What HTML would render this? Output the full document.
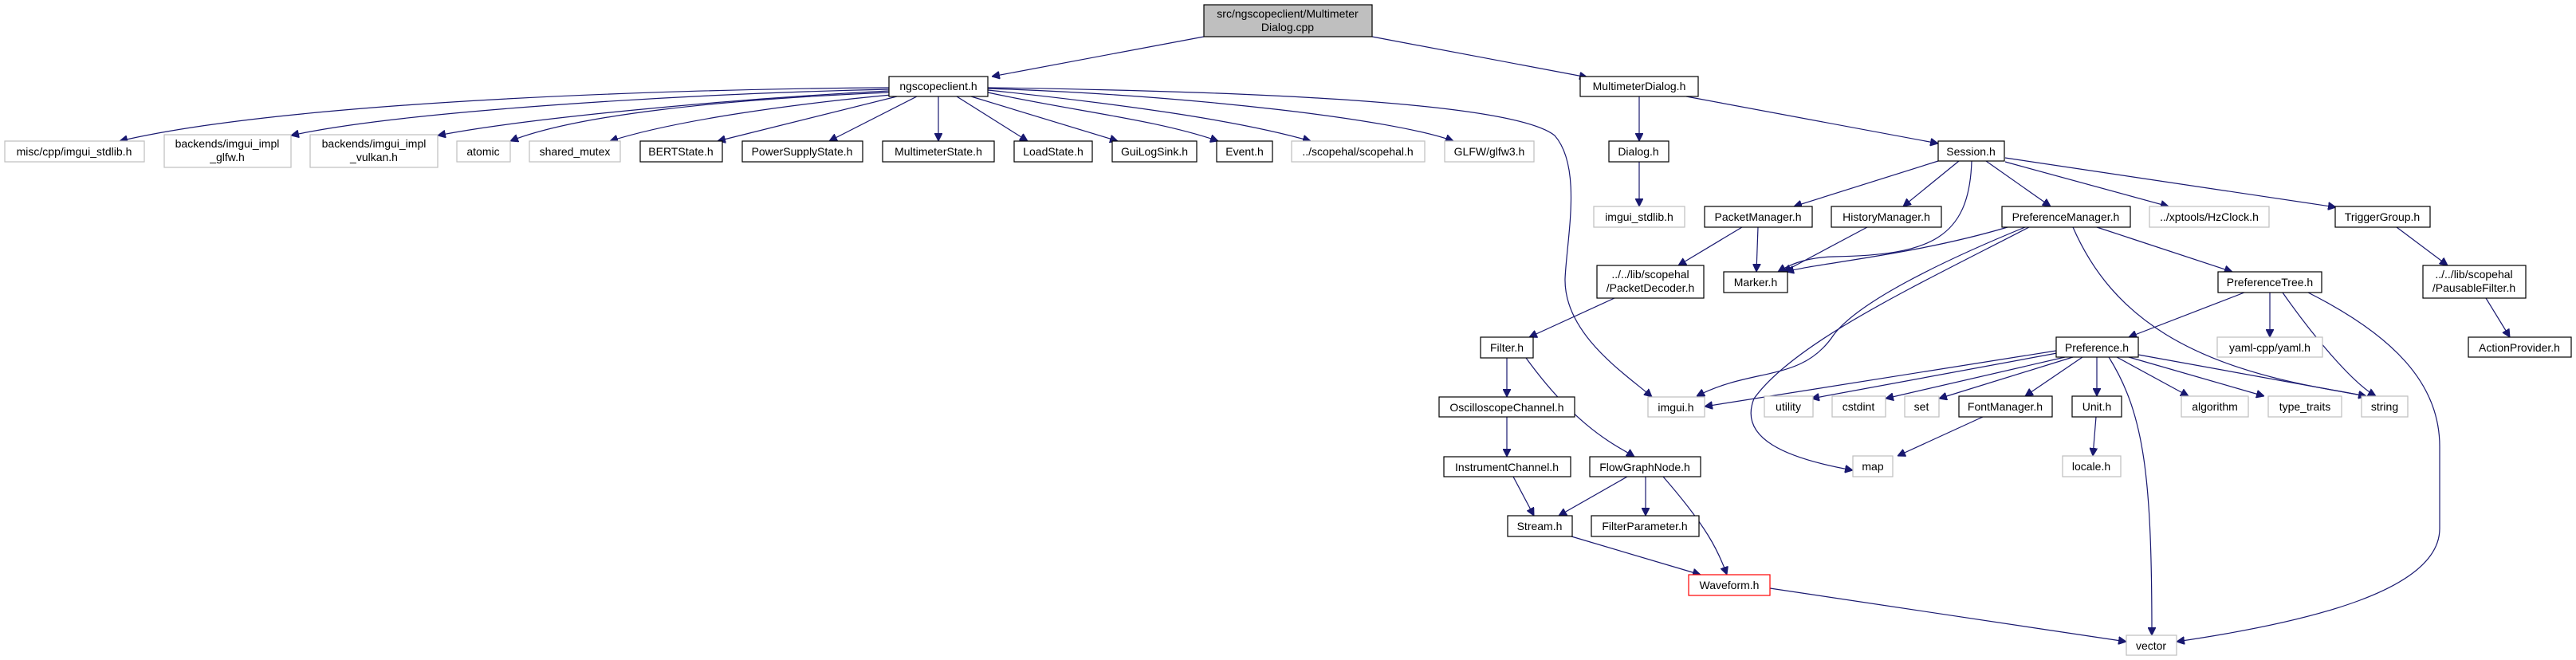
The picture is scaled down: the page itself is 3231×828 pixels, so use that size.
<!DOCTYPE html>
<html><head><meta charset="utf-8"><style>
html,body{margin:0;padding:0;background:#fff;}
svg{display:block;}
text{font-family:"Liberation Sans",sans-serif;font-size:14px;fill:#000;text-anchor:middle;}
.b{fill:#fff;stroke:#000;stroke-width:1.2;}
.g{fill:#fff;stroke:#bfbfbf;stroke-width:1.2;}
.e{fill:none;stroke:#191970;stroke-width:1.2;}
</style></head><body>
<svg width="3231" height="828" viewBox="0 0 3231 828" xmlns="http://www.w3.org/2000/svg">
<defs><marker id="a" viewBox="0 0 10 10" refX="10" refY="5" markerWidth="10" markerHeight="10" markerUnits="userSpaceOnUse" orient="auto"><path d="M0,0 L10,5 L0,10z" fill="#191970" stroke="#191970"/></marker></defs>
<g class="e" marker-end="url(#a)">
<path d="M1510,46 L1244,96"/>
<path d="M1721,46 L1991,97"/>
<path d="M1115,110 C800,112 350,130 150,177"/>
<path d="M1115,112 C850,118 500,140 365,170"/>
<path d="M1115,114 C900,125 650,150 549,170"/>
<path d="M1115,116 C900,125 720,145 640,177"/>
<path d="M1118,119 C1000,130 850,150 765,177"/>
<path d="M1125,121 L900,177"/>
<path d="M1150,121 L1040,177"/>
<path d="M1177,121 L1177,177"/>
<path d="M1200,121 L1289,177"/>
<path d="M1218,121 L1402,177"/>
<path d="M1239,116 C1350,140 1450,150 1528,177"/>
<path d="M1239,113 C1400,130 1550,150 1644,177"/>
<path d="M1239,111 C1500,120 1750,150 1823,177"/>
<path d="M1239,110 C1600,115 1900,130 1950,170 C1985,210 1965,300 1963,350 C1962,420 2040,470 2072,498"/>
<path d="M2056,121 L2056,177"/>
<path d="M2115,121 L2431,180"/>
<path d="M2056,203 L2056,259"/>
<path d="M2431,202 L2250,259"/>
<path d="M2457,202 L2387,259"/>
<path d="M2473,202 C2470,300 2420,320 2300,322 C2260,323 2240,335 2230,341"/>
<path d="M2491,202 L2572,259"/>
<path d="M2515,203 L2720,259"/>
<path d="M2515,198 L2930,260"/>
<path d="M2185,285 L2105,333"/>
<path d="M2205,285 L2203,341"/>
<path d="M2342,285 L2237,341"/>
<path d="M2518,285 C2400,320 2280,330 2240,341"/>
<path d="M2540,285 C2430,330 2330,380 2300,420 C2260,480 2200,460 2128,497"/>
<path d="M2545,285 C2400,360 2250,430 2200,500 C2180,550 2240,575 2324,590"/>
<path d="M2600,285 C2650,400 2750,460 2930,490 L2968,497"/>
<path d="M2630,285 L2800,341"/>
<path d="M3006,285 L3070,333"/>
<path d="M3118,374 L3148,423"/>
<path d="M2815,367 L2670,423"/>
<path d="M2847,367 L2847,423"/>
<path d="M2863,367 C2900,420 2950,480 2980,497"/>
<path d="M2895,367 C3000,420 3060,480 3060,560 L3060,663 C3060,740 2900,780 2730,805"/>
<path d="M2579,440 L2138,510"/>
<path d="M2580,443 L2272,500"/>
<path d="M2590,448 L2365,500"/>
<path d="M2600,448 L2432,500"/>
<path d="M2612,448 L2540,497"/>
<path d="M2630,448 L2630,497"/>
<path d="M2645,448 C2690,520 2699,600 2699,797"/>
<path d="M2655,448 L2745,497"/>
<path d="M2670,448 L2840,497"/>
<path d="M2682,445 L2968,497"/>
<path d="M2487,523 L2380,572"/>
<path d="M2629,523 L2625,572"/>
<path d="M2025,374 L1918,423"/>
<path d="M1890,449 L1890,498"/>
<path d="M1914,449 C1980,540 2030,560 2050,573"/>
<path d="M1890,523 L1890,573"/>
<path d="M1898,598 L1924,647"/>
<path d="M2041,598 L1955,647"/>
<path d="M2064,598 L2064,647"/>
<path d="M2086,598 C2140,660 2155,690 2166,721"/>
<path d="M1971,673 L2133,721"/>
<path d="M2220,738 L2667,805"/>
</g>
<rect x="1510" y="6" width="211" height="40" fill="#bfbfbf" stroke="#000" stroke-width="1.2"/>
<text x="1615" y="22">src/ngscopeclient/Multimeter</text><text x="1615" y="39">Dialog.cpp</text>
<g>
<rect class="b" x="1115" y="96" width="124" height="25"/><text x="1177" y="113">ngscopeclient.h</text>
<rect class="b" x="1982" y="96" width="148" height="25"/><text x="2056" y="113">MultimeterDialog.h</text>
<rect class="g" x="6" y="177" width="175" height="26"/><text x="93" y="195">misc/cpp/imgui_stdlib.h</text>
<rect class="g" x="206" y="169" width="159" height="41"/><text x="285" y="185">backends/imgui_impl</text><text x="285" y="202">_glfw.h</text>
<rect class="g" x="389" y="169" width="160" height="41"/><text x="469" y="185">backends/imgui_impl</text><text x="469" y="202">_vulkan.h</text>
<rect class="g" x="573" y="177" width="67" height="26"/><text x="606" y="195">atomic</text>
<rect class="g" x="664" y="177" width="114" height="26"/><text x="721" y="195">shared_mutex</text>
<rect class="b" x="803" y="177" width="103" height="26"/><text x="854" y="195">BERTState.h</text>
<rect class="b" x="931" y="177" width="151" height="26"/><text x="1006" y="195">PowerSupplyState.h</text>
<rect class="b" x="1107" y="177" width="140" height="26"/><text x="1177" y="195">MultimeterState.h</text>
<rect class="b" x="1272" y="177" width="98" height="26"/><text x="1321" y="195">LoadState.h</text>
<rect class="b" x="1395" y="177" width="106" height="26"/><text x="1448" y="195">GuiLogSink.h</text>
<rect class="b" x="1526" y="177" width="70" height="26"/><text x="1561" y="195">Event.h</text>
<rect class="g" x="1620" y="177" width="167" height="26"/><text x="1703" y="195">../scopehal/scopehal.h</text>
<rect class="g" x="1812" y="177" width="112" height="26"/><text x="1868" y="195">GLFW/glfw3.h</text>
<rect class="b" x="2018" y="177" width="75" height="26"/><text x="2055" y="195">Dialog.h</text>
<rect class="b" x="2431" y="177" width="83" height="25"/><text x="2472" y="195">Session.h</text>
<rect class="g" x="1999" y="259" width="114" height="26"/><text x="2056" y="277">imgui_stdlib.h</text>
<rect class="b" x="2138" y="259" width="135" height="26"/><text x="2205" y="277">PacketManager.h</text>
<rect class="b" x="2297" y="259" width="138" height="26"/><text x="2366" y="277">HistoryManager.h</text>
<rect class="b" x="2511" y="259" width="161" height="26"/><text x="2591" y="277">PreferenceManager.h</text>
<rect class="g" x="2696" y="259" width="150" height="26"/><text x="2771" y="277">../xptools/HzClock.h</text>
<rect class="b" x="2929" y="259" width="119" height="26"/><text x="2988" y="277">TriggerGroup.h</text>
<rect class="b" x="2003" y="333" width="134" height="41"/><text x="2070" y="349">../../lib/scopehal</text><text x="2070" y="366">/PacketDecoder.h</text>
<rect class="b" x="2162" y="341" width="80" height="26"/><text x="2202" y="359">Marker.h</text>
<rect class="b" x="2782" y="341" width="130" height="26"/><text x="2847" y="359">PreferenceTree.h</text>
<rect class="b" x="3039" y="333" width="129" height="41"/><text x="3103" y="349">../../lib/scopehal</text><text x="3103" y="366">/PausableFilter.h</text>
<rect class="b" x="1857" y="423" width="66" height="26"/><text x="1890" y="441">Filter.h</text>
<rect class="b" x="2579" y="423" width="103" height="25"/><text x="2630" y="441">Preference.h</text>
<rect class="g" x="2781" y="423" width="132" height="25"/><text x="2847" y="441">yaml-cpp/yaml.h</text>
<rect class="b" x="3096" y="423" width="129" height="25"/><text x="3160" y="441">ActionProvider.h</text>
<rect class="b" x="1805" y="498" width="170" height="25"/><text x="1890" y="516">OscilloscopeChannel.h</text>
<rect class="g" x="2067" y="498" width="71" height="25"/><text x="2102" y="516">imgui.h</text>
<rect class="g" x="2213" y="497" width="61" height="26"/><text x="2243" y="515">utility</text>
<rect class="g" x="2298" y="497" width="67" height="26"/><text x="2331" y="515">cstdint</text>
<rect class="g" x="2389" y="497" width="43" height="26"/><text x="2410" y="515">set</text>
<rect class="b" x="2457" y="497" width="117" height="26"/><text x="2515" y="515">FontManager.h</text>
<rect class="b" x="2599" y="497" width="62" height="26"/><text x="2630" y="515">Unit.h</text>
<rect class="g" x="2736" y="497" width="84" height="26"/><text x="2778" y="515">algorithm</text>
<rect class="g" x="2845" y="497" width="92" height="26"/><text x="2891" y="515">type_traits</text>
<rect class="g" x="2962" y="497" width="58" height="26"/><text x="2991" y="515">string</text>
<rect class="b" x="1811" y="573" width="159" height="25"/><text x="1890" y="591">InstrumentChannel.h</text>
<rect class="b" x="1994" y="573" width="139" height="25"/><text x="2063" y="591">FlowGraphNode.h</text>
<rect class="g" x="2324" y="572" width="50" height="26"/><text x="2349" y="590">map</text>
<rect class="g" x="2587" y="572" width="73" height="26"/><text x="2623" y="590">locale.h</text>
<rect class="b" x="1891" y="647" width="81" height="26"/><text x="1931" y="665">Stream.h</text>
<rect class="b" x="1996" y="647" width="135" height="26"/><text x="2063" y="665">FilterParameter.h</text>
<rect x="2118" y="721" width="102" height="26" fill="#fff" stroke="#ff0000" stroke-width="1.2"/><text x="2169" y="739">Waveform.h</text>
<rect class="g" x="2667" y="797" width="63" height="25"/><text x="2698" y="815">vector</text>
</g>
</svg>
</body></html>
